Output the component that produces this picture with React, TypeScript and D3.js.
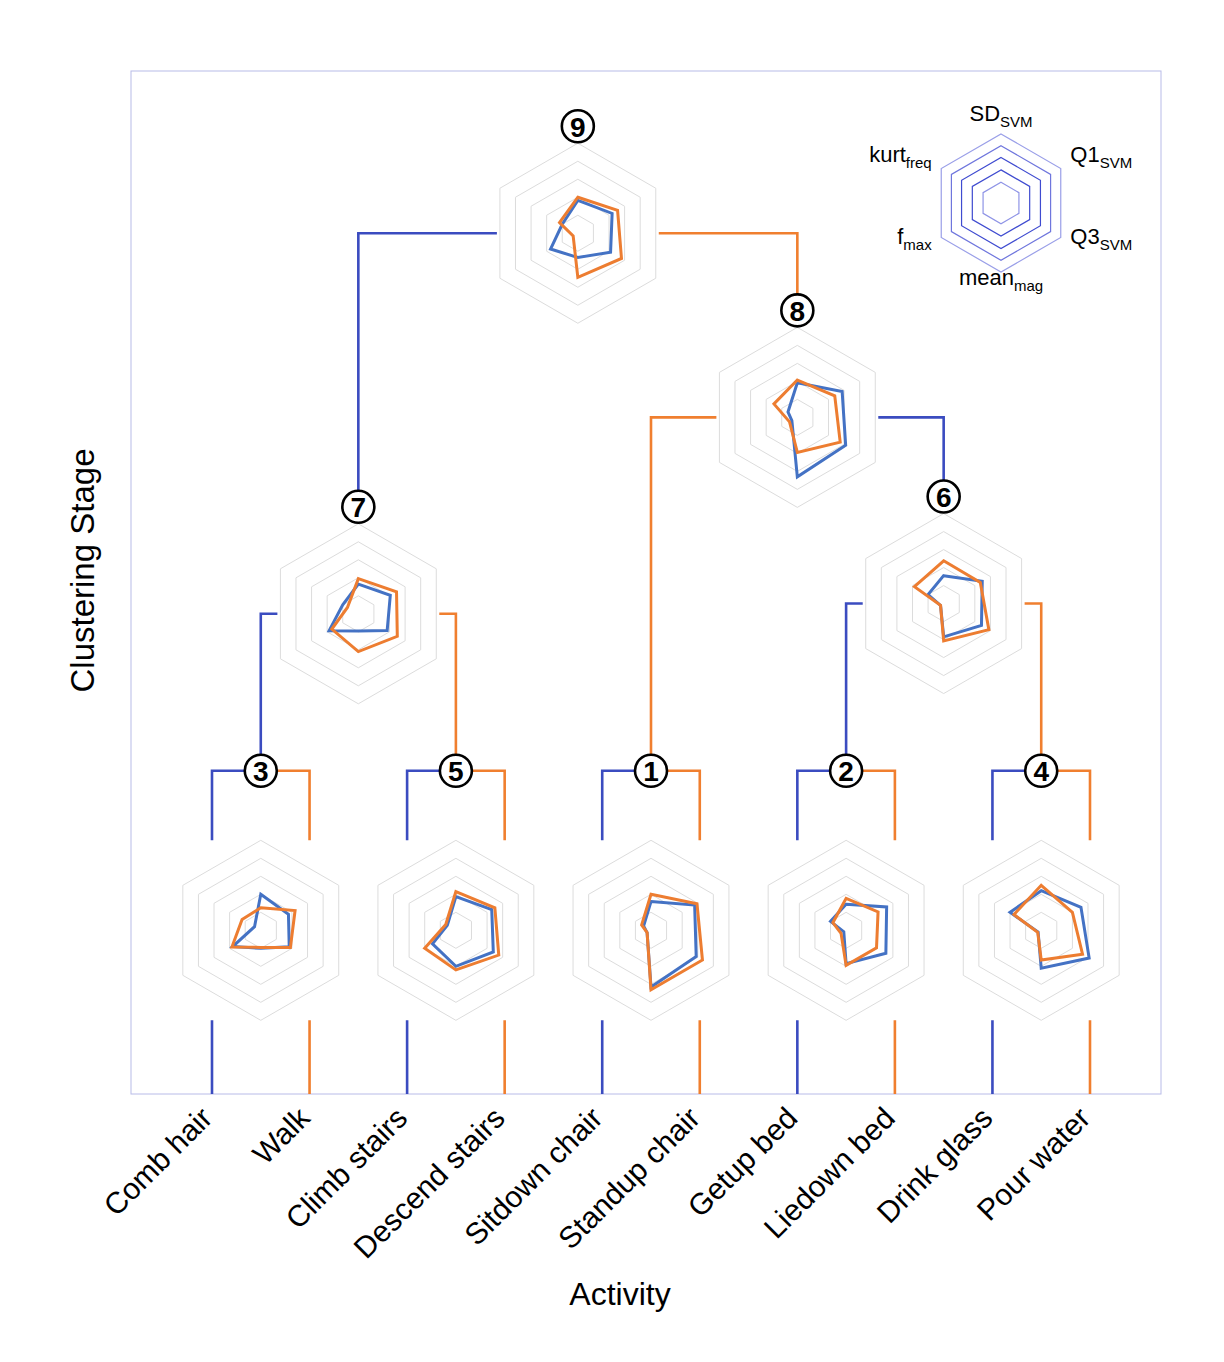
import * as d3 from 'd3';

const activities = [
  'Comb hair', 'Walk', 'Climb stairs', 'Descend stairs', 'Sitdown chair',
  'Standup chair', 'Getup bed', 'Liedown bed', 'Drink glass', 'Pour water',
];

// radar axes, clockwise from the top
const features = [
  { main: 'SD', sub: 'SVM' },
  { main: 'Q1', sub: 'SVM' },
  { main: 'Q3', sub: 'SVM' },
  { main: 'mean', sub: 'mag' },
  { main: 'f', sub: 'max' },
  { main: 'kurt', sub: 'freq' },
];

// children of each clustering stage (1..9): activity names or earlier stage numbers
const stageChildren: [string | number, string | number][] = [
  ['Sitdown chair', 'Standup chair'],
  ['Getup bed', 'Liedown bed'],
  ['Comb hair', 'Walk'],
  ['Drink glass', 'Pour water'],
  ['Climb stairs', 'Descend stairs'],
  [2, 4],
  [3, 5],
  [1, 6],
  [7, 8],
];
const stageHeights = [0.316, 0.316, 0.316, 0.316, 0.316, 0.584, 0.574, 0.766, 0.946];
const leafRadarLevel = 0.16;

// profiles: SD, Q1, Q3, mean, fmax, kurt (fraction of radar radius)
const blueProfiles = [
  [0.32, 0.56, 0.58, 0.63, 0.05, 0.095],
  [0.29, 0.52, 0.51, 0.37, 0.03, 0.2],
  [0.4, 0.355, 0.365, 0.2, 0.36, 0.08],
  [0.44, 0.51, 0.615, 0.42, 0.04, 0.4],
  [0.375, 0.46, 0.48, 0.4, 0.3, 0.11],
  [0.31, 0.495, 0.485, 0.37, 0.04, 0.2],
  [0.33, 0.41, 0.37, 0.19, 0.375, 0.2],
  [0.385, 0.575, 0.62, 0.66, 0.07, 0.12],
  [0.365, 0.44, 0.42, 0.27, 0.35, 0.2],
];
const orangeProfiles = [
  [0.4, 0.59, 0.66, 0.66, 0.05, 0.12],
  [0.355, 0.41, 0.39, 0.39, 0.065, 0.17],
  [0.25, 0.44, 0.38, 0.19, 0.37, 0.24],
  [0.5, 0.4, 0.53, 0.33, 0.045, 0.35],
  [0.43, 0.5, 0.55, 0.44, 0.4, 0.13],
  [0.475, 0.47, 0.58, 0.415, 0.04, 0.375],
  [0.39, 0.49, 0.5, 0.42, 0.34, 0.14],
  [0.415, 0.48, 0.55, 0.39, 0.1, 0.3],
  [0.4, 0.51, 0.56, 0.49, 0.06, 0.235],
];
const swappedBranchStages = [8];
const gridLevels = [0.2, 0.4, 0.6, 0.8, 1.0];
const legendLevels = [0.3, 0.48, 0.66, 0.83, 1.0];

const W = 1224;
const H = 1362;
const frame = { left: 131, right: 1161, top: 71, bottom: 1094 };
const R = 90;
const circleR = 16;
const BLUE_LINE = '#3b4cc0';
const ORANGE_LINE = '#f07f2f';
const BLUE = '#4472c4';
const ORANGE = '#ed7d31';
const FONT = '"Liberation Sans", Arial, Helvetica, sans-serif';

const xScale = d3.scalePoint<string>()
  .domain(activities)
  .range([frame.left + 81, frame.right - 71]);

const yScale = d3.scaleLinear().domain([0, 1]).range([frame.bottom, frame.top]);

const angle = (i: number) => (i * 2 * Math.PI) / features.length;

const radarPath = (radius: number) =>
  d3.lineRadial<number>()
    .angle((_, i) => angle(i))
    .radius(d => d * radius)
    .curve(d3.curveLinearClosed);

const nodeX = (n: string | number): number =>
  typeof n === 'string'
    ? (xScale(n) as number)
    : (nodeX(stageChildren[n - 1][0]) + nodeX(stageChildren[n - 1][1])) / 2;

const isBottom = (s: number) => stageChildren[s - 1].every(c => typeof c === 'string');

const Radar = ({ cx, cy, blue, orange }: { cx: number; cy: number; blue: number[]; orange: number[] }) => {
  const line = radarPath(R);
  const ring = (lv: number) => line(features.map(() => lv)) as string;
  return (
    <g transform={`translate(${cx},${cy})`}>
      {gridLevels.map(lv => (
        <path key={lv} d={ring(lv)} fill="none" stroke="#dcdcdc" strokeWidth={1} />
      ))}
      <path d={line(blue) as string} fill="none" stroke={BLUE} strokeWidth={3} />
      <path d={line(orange) as string} fill="none" stroke={ORANGE} strokeWidth={3} />
    </g>
  );
};

const Legend = () => {
  const cx = 1001;
  const cy = 203;
  const rl = 69;
  const line = radarPath(rl);
  const ringColors = ['#8f94e6', '#3f4bd0', '#3f4bd0', '#6f76dd', '#9a9fe8'];
  return (
    <g>
      {legendLevels.map((lv, i) => (
        <path key={lv} transform={`translate(${cx},${cy})`}
          d={line(features.map(() => lv)) as string}
          fill="none" stroke={ringColors[i]} strokeWidth={1.2} />
      ))}
      {features.map((f, i) => {
        const a = angle(i);
        const dx = Math.sin(a) * 80;
        const dy = -Math.cos(a) * 82 - 8;
        const anchor = Math.abs(dx) < 1 ? 'middle' : dx > 0 ? 'start' : 'end';
        return (
          <text key={f.main} x={cx + dx} y={cy + dy} dy="0.35em" textAnchor={anchor}
            fontFamily={FONT} fontSize={22} fill="#000">
            {f.main}
            <tspan fontSize={15} dy={6}>{f.sub}</tspan>
          </text>
        );
      })}
    </g>
  );
};

export default function App() {
  const leafY = yScale(leafRadarLevel);
  const circleY = (s: number) => yScale(stageHeights[s - 1]);
  const radarY = (s: number) => (isBottom(s) ? leafY : circleY(s) + 107);
  const topOf = (n: string | number) => (typeof n === 'number' ? circleY(n) - circleR : 0);

  const stages = stageChildren.map((_, i) => i + 1);

  return (
    <svg width={W} height={H} style={{ position: 'absolute', left: 0, top: 0 }}
      fontFamily={FONT}>
      <rect x={0} y={0} width={W} height={H} fill="#fff" />
      <rect x={frame.left} y={frame.top} width={frame.right - frame.left}
        height={frame.bottom - frame.top} fill="none" stroke="#b8bbe8" strokeWidth={1} />

      {/* dendrogram branches */}
      {stages.map(s => {
        const [l, r] = stageChildren[s - 1];
        const x = nodeX(s);
        const swapped = swappedBranchStages.includes(s);
        const leftColor = swapped ? ORANGE_LINE : BLUE_LINE;
        const rightColor = swapped ? BLUE_LINE : ORANGE_LINE;
        if (isBottom(s)) {
          const y = circleY(s);
          const xl = nodeX(l);
          const xr = nodeX(r);
          return (
            <g key={s} fill="none" strokeWidth={2.6}>
              <path d={`M${x - circleR},${y}H${xl}V${leafY - R}M${xl},${leafY + R}V${frame.bottom}`} stroke={leftColor} />
              <path d={`M${x + circleR},${y}H${xr}V${leafY - R}M${xr},${leafY + R}V${frame.bottom}`} stroke={rightColor} />
            </g>
          );
        }
        const y = radarY(s);
        const off = R * Math.cos(Math.PI / 6) + 3;
        return (
          <g key={s} fill="none" strokeWidth={2.6}>
            <path d={`M${x - off},${y}H${nodeX(l)}V${topOf(l)}`} stroke={leftColor} />
            <path d={`M${x + off},${y}H${nodeX(r)}V${topOf(r)}`} stroke={rightColor} />
          </g>
        );
      })}

      {/* radar glyphs */}
      {stages.map(s => (
        <Radar key={s} cx={nodeX(s)} cy={radarY(s)} blue={blueProfiles[s - 1]} orange={orangeProfiles[s - 1]} />
      ))}

      {/* stage numbers */}
      {stages.map(s => (
        <g key={s} transform={`translate(${nodeX(s)},${circleY(s)})`}>
          <circle r={circleR} fill="#fff" stroke="#000" strokeWidth={2.6} />
          <text textAnchor="middle" dy="0.37em" fontSize={28} fontWeight="bold">{s}</text>
        </g>
      ))}

      {/* x tick labels */}
      {activities.map(a => (
        <text key={a} transform={`translate(${(xScale(a) as number) + 2},${frame.bottom + 26}) rotate(-45)`}
          textAnchor="end" fontSize={30} fill="#000">{a}</text>
      ))}

      <text x={620} y={1305} textAnchor="middle" fontSize={32}>Activity</text>
      <text transform={`translate(94,${(frame.top + frame.bottom) / 2 - 12}) rotate(-90)`}
        textAnchor="middle" fontSize={33}>Clustering Stage</text>

      <Legend />
    </svg>
  );
}
